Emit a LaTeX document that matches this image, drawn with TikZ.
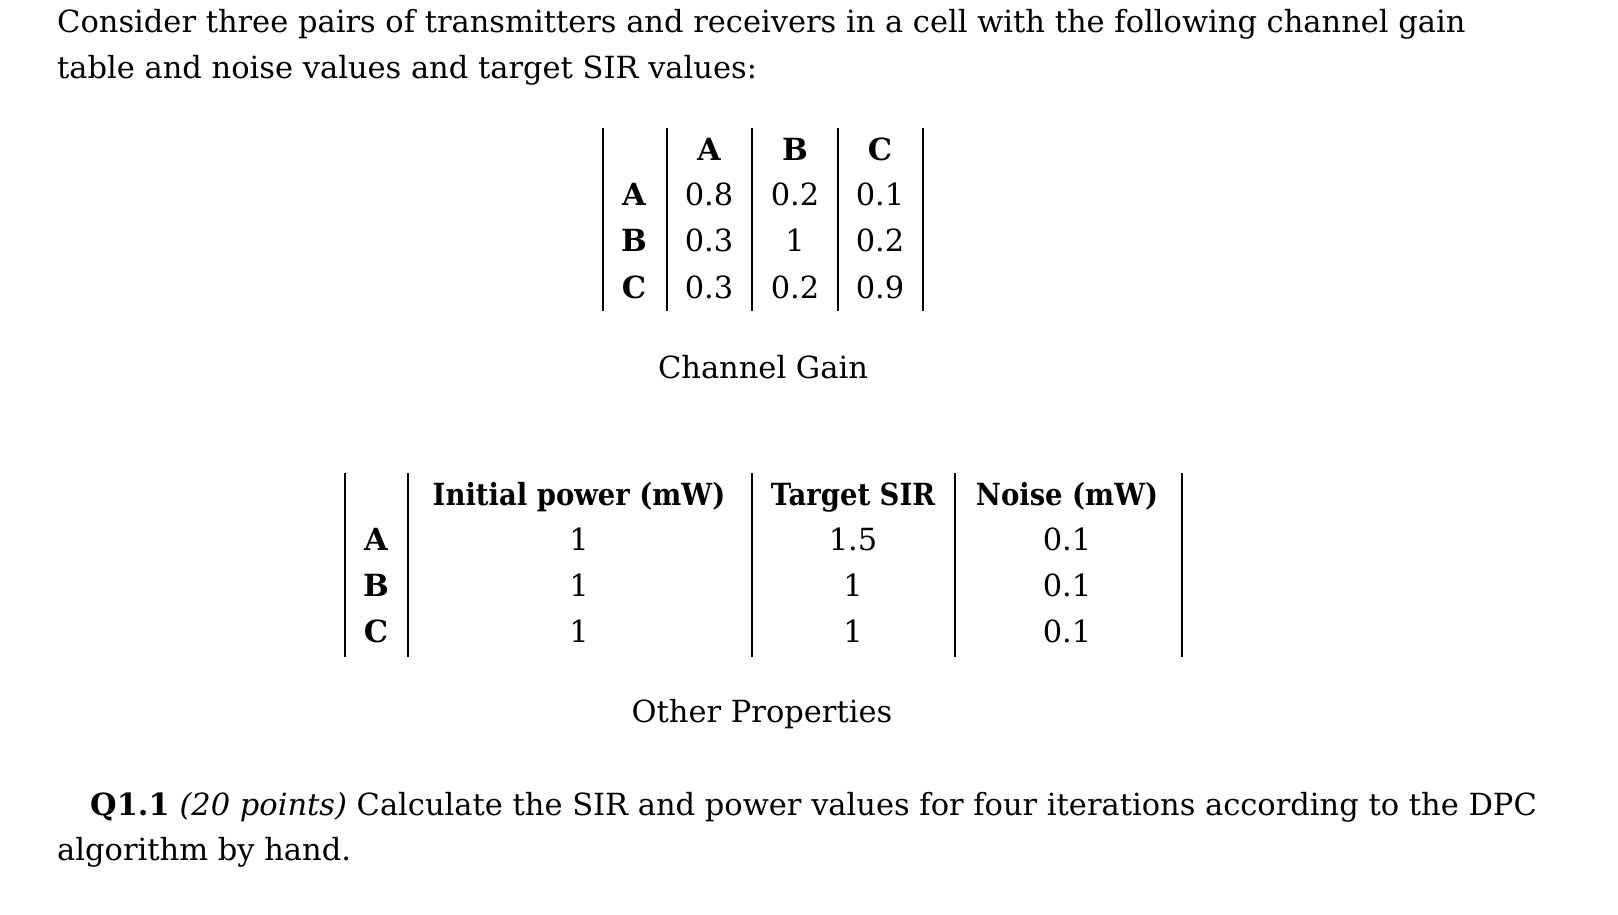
\documentclass[tikz,border=0pt]{standalone}
\usepackage{fontspec}
\setmainfont{DejaVu Serif}
\begin{document}
\begin{tikzpicture}[x=1pt,y=-1pt,
  t/.style={anchor=base,inner sep=0pt,font=\fontsize{30.5}{36}\selectfont},
  tl/.style={t,anchor=base west},
  b/.style={t,font=\fontsize{30.5}{36}\selectfont\bfseries},
  rule/.style={line width=1.2pt}]
\useasboundingbox (0,0) rectangle (1618,914);
\node[tl] (l1) at (57,32) {Consider three pairs of transmitters and receivers in a cell with the following channel gain};
\node[tl] (l2) at (57,78) {table and noise values and target SIR values:};
% table 1
\foreach \x in {603,667,752,838,923} \draw[rule] (\x,128) -- (\x,311);
\node[b] (hA) at (709,160) {A};
\node[b] (hB) at (795,160) {B};
\node[b] (hC) at (880,160) {C};
\node[b] (rA) at (634,205) {A};
\node[b] (rB) at (634,251) {B};
\node[b] (rC) at (634,298) {C};
\node[t] at (709,205) {0.8}; \node[t] at (795,205) {0.2}; \node[t] at (880,205) {0.1};
\node[t] at (709,251) {0.3}; \node[t] at (795,251) {1};   \node[t] at (880,251) {0.2};
\node[t] at (709,298) {0.3}; \node[t] at (795,298) {0.2}; \node[t] at (880,298) {0.9};
\node[t] (cap1) at (763,378) {Channel Gain};
% table 2
\foreach \x in {345,408,752,955,1182} \draw[rule] (\x,473) -- (\x,657);
\node[b] (h1) at (579,505) {\scalebox{0.9}[1]{Initial power (mW)}};
\node[b] (h2) at (853,505) {\scalebox{0.9}[1]{Target SIR}};
\node[b] (h3) at (1067,505) {\scalebox{0.9}[1]{Noise (mW)}};
\node[b] (sA) at (376,550) {A};
\node[b] (sB) at (376,596) {B};
\node[b] (sC) at (376,642) {C};
\node[t] at (579,550) {1}; \node[t] at (853,550) {1.5}; \node[t] at (1067,550) {0.1};
\node[t] at (579,596) {1}; \node[t] at (853,596) {1};   \node[t] at (1067,596) {0.1};
\node[t] at (579,642) {1}; \node[t] at (853,642) {1};   \node[t] at (1067,642) {0.1};
\node[t] (cap2) at (762,722) {Other Properties};
\node[tl] (q1) at (90,815) {\textbf{Q1.1} \textit{(20 points)} Calculate the SIR and power values for four iterations according to the DPC};
\node[tl] (q2) at (57,860) {algorithm by hand.};
\end{tikzpicture}
\end{document}
